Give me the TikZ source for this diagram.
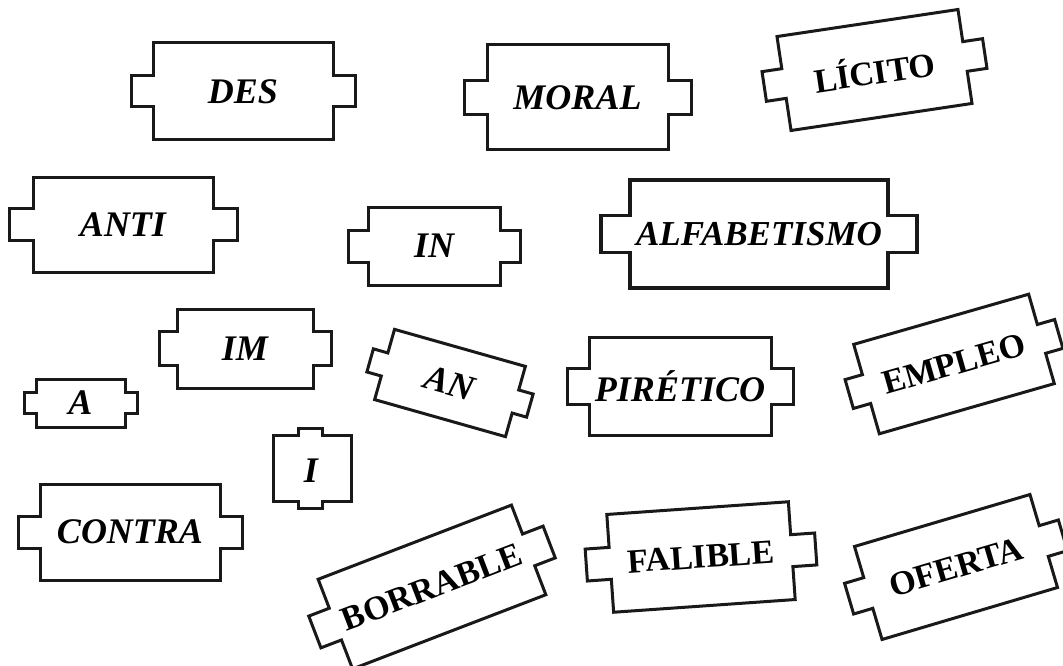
\documentclass[tikz,border=0pt]{standalone}
\usepackage{fontspec}
\setmainfont{Liberation Serif}
\tikzset{
  piece/.style={draw=black!90, line width=3pt, line join=miter, fill=white},
  thickpiece/.style={piece, line width=3.8pt},
  lblit/.style={inner sep=0pt, font=\fontsize{36}{36}\selectfont\bfseries\itshape},
  lblitsmall/.style={lblit, font=\fontsize{35}{35}\selectfont\bfseries\itshape},
  lblup/.style={inner sep=0pt, font=\fontsize{34}{34}\selectfont\bfseries},
}
% #1 name, #2 cx, #3 cy, #4 W, #5 H, #6 D, #7 T, #8 angle, #9 text
\newcommand{\mkpiece}[9]{%
  \begin{scope}[shift={(#2,#3)}, rotate=#8]
    \draw[\piecestyle] (-#4/2,-#5/2) -- (#4/2,-#5/2) -- (#4/2,-#7) -- (#4/2+#6,-#7)
      -- (#4/2+#6,#7) -- (#4/2,#7) -- (#4/2,#5/2) -- (-#4/2,#5/2) -- (-#4/2,#7)
      -- (-#4/2-#6,#7) -- (-#4/2-#6,-#7) -- (-#4/2,-#7) -- cycle;
    \node[\labelstyle, transform shape] (#1) at (0,0) {#9};
  \end{scope}}
\newcommand{\piecestyle}{piece}
\newcommand{\labelstyle}{lblit}
\begin{document}
\begin{tikzpicture}[x=1pt,y=-1pt]
\fill[white] (0,0) rectangle (1063,666);
\useasboundingbox (0,0) rectangle (1063,666);
% prefixes and roots, bold italic
\mkpiece{des}{243}{91.5}{180}{97}{22}{15.5}{0}{DES}
\mkpiece{moral}{577.5}{97.5}{181}{105}{23}{17}{0}{MORAL}
\mkpiece{anti}{123}{224.5}{180}{95}{24}{16}{0}{ANTI}
\mkpiece{in}{434}{246}{132}{78}{20}{16}{0}{IN}
\renewcommand{\piecestyle}{thickpiece}
\renewcommand{\labelstyle}{lblitsmall}
\mkpiece{alfa}{759}{234}{258}{108}{29}{18.5}{0}{ALFABETISMO}
\renewcommand{\piecestyle}{piece}
\renewcommand{\labelstyle}{lblit}
\mkpiece{im}{245}{348.5}{136}{79}{18}{17}{0}{IM}
\mkpiece{a}{80.5}{403}{89}{48}{12}{10.5}{0}{A}
\mkpiece{contra}{130}{532}{180}{96}{22}{16}{0}{CONTRA}
\mkpiece{an}{450}{383}{136}{73}{15}{12}{-15.8}{AN}
\mkpiece{piretico}{680}{386}{182}{98}{22}{18}{0}{PIRÉTICO}
% the I piece, tabs on top and bottom
\draw[piece] (273,435) -- (298,435) -- (298,428) -- (322,428) -- (322,435) -- (351,435)
  -- (351,501) -- (322,501) -- (322,508) -- (298,508) -- (298,501) -- (273,501) -- cycle;
\node[lblit] (i) at (311,471) {I};
% upright bold, rotated
\renewcommand{\labelstyle}{lblup}
\mkpiece{licito}{874.5}{70}{183}{95}{20}{15}{8.5}{LÍCITO}
\mkpiece{empleo}{954}{364}{182}{93}{18}{15}{16}{EMPLEO}
\mkpiece{borrable}{432}{587}{207}{96}{22}{17}{21}{BORRABLE}
\mkpiece{falible}{701}{557}{182}{98}{24}{16}{4}{FALIBLE}
\mkpiece{oferta}{956}{567}{183}{97}{20}{16}{16.5}{OFERTA}
\end{tikzpicture}
\end{document}
